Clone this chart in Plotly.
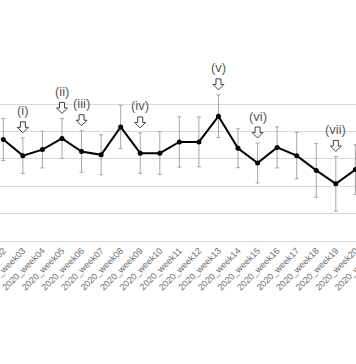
import plotly.graph_objects as go

weeks = ["2020_week02", "2020_week03", "2020_week04", "2020_week05", "2020_week06",
         "2020_week07", "2020_week08", "2020_week09", "2020_week10", "2020_week11",
         "2020_week12", "2020_week13", "2020_week14", "2020_week15", "2020_week16",
         "2020_week17", "2020_week18", "2020_week19", "2020_week20"]
values = [37.1, 31.2, 33.4, 37.5, 32.7, 31.5, 41.7, 32.1, 32.1, 36.2,
          36.2, 45.6, 33.9, 28.5, 34.2, 31.2, 25.8, 20.9, 26.1]
errors = [7.7, 6.5, 6.7, 7.3, 7.6, 7.3, 7.9, 7.4, 7.8, 9.2,
          9.1, 7.8, 7.1, 7.3, 7.5, 8.5, 9.8, 10.0, 9.1]
all_categories = weeks + ["2020_week21"]  # week21 label is partly visible at the edge

marked_weeks = ["2020_week03", "2020_week05", "2020_week06", "2020_week09",
                "2020_week13", "2020_week15", "2020_week19"]
marked_labels = ["(i)", "(ii)", "(iii)", "(iv)", "(v)", "(vi)", "(vii)"]

FIG_W = 400          # wider than the window; the page crops it like the reference crop
PX_PER_CAT = 19.56
x0 = -0.169
x_range = [x0, x0 + FIG_W / PX_PER_CAT]

fig = go.Figure()
fig.add_trace(go.Scatter(
    x=weeks, y=values,
    mode="lines+markers",
    line=dict(color="black", width=2),
    marker=dict(color="black", size=5),
    error_y=dict(type="data", array=errors, visible=True,
                 color="#a6a6a6", thickness=1, width=2),
    showlegend=False,
))

# hollow block arrow, in pixels relative to the top of the error bar
arrow_path = "M0,5 L-5.5,10.5 L-2.5,10.5 L-2.5,16 L2.5,16 L2.5,10.5 L5.5,10.5 Z"

annotations = []
shapes = []
for wk, lab in zip(marked_weeks, marked_labels):
    i = weeks.index(wk)
    top = values[i] + errors[i]
    shapes.append(dict(type="path", xref="x", yref="y",
                       xsizemode="pixel", ysizemode="pixel",
                       xanchor=i, yanchor=top, path=arrow_path,
                       line=dict(color="#404040", width=1), fillcolor="white"))
    annotations.append(dict(x=wk, y=top, text=lab, showarrow=False,
                            yanchor="middle", yshift=27,
                            font=dict(size=13, color="#595959", family="Liberation Sans")))

fig.update_layout(
    width=FIG_W, height=364,
    margin=dict(l=0, r=0, t=76, b=123, autoexpand=False),
    paper_bgcolor="white", plot_bgcolor="white",
    annotations=annotations,
    shapes=shapes,
    xaxis=dict(type="category", categoryorder="array", categoryarray=all_categories,
               range=x_range, showgrid=False,
               showline=True, linecolor="#d9d9d9", linewidth=1, automargin=False,
               tickangle=-45, tickfont=dict(size=9, color="#6e6e6e", family="Liberation Sans"),
               ticks="", fixedrange=True),
    yaxis=dict(range=[0, 60.3], dtick=10, tick0=0, showgrid=True, gridcolor="#d9d9d9",
               gridwidth=1, showticklabels=False, zeroline=False, ticks="", automargin=False,
               fixedrange=True),
)

fig.write_html("out.html", config={"displayModeBar": False},
               post_script="document.body.style.margin='0';"
                           "document.body.style.overflow='hidden';"
                           "document.documentElement.style.overflow='hidden';")
